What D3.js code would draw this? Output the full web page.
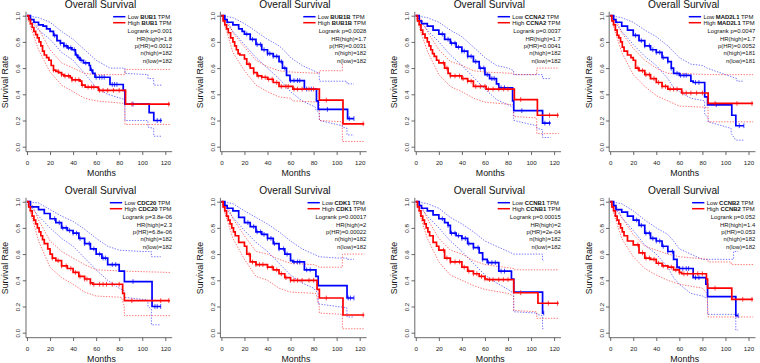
<!DOCTYPE html>
<html>
<head>
<meta charset="utf-8">
<script src="https://cdn.jsdelivr.net/npm/d3@7"></script>
<style>
  body { margin: 0; background: #fff; }
  svg { display: block; font-family: "Liberation Sans", Arial, sans-serif; }
</style>
</head>
<body>
<script>
// gene panels, in reading order
var genes = ["BUB1", "BUB1B", "CCNA2", "MAD2L1", "CDC20", "CDK1", "CCNB1", "CCNB2"];
var logrankP = ["0.001", "0.0028", "0.0037", "0.0047", "3.8e-06", "0.00017", "0.00015", "0.052"];
var hrHigh = ["1.8", "1.7", "1.7", "1.7", "2.3", "2", "2", "1.4"];
var pHR = ["0.0012", "0.0031", "0.0041", "0.0052", "6.8e-06", "0.00022", "2e-04", "0.053"];
var nHigh = [182, 182, 182, 181, 182, 182, 182, 182];
var nLow = [182, 182, 182, 181, 182, 182, 182, 182];

var xTicks = [0, 20, 40, 60, 80, 100, 120];
var yTicks = [0, 0.2, 0.4, 0.6, 0.8, 1.0];

// Kaplan-Meier steps [month, survival] for the low expression group
var lowCurves = [
  [[0,1],[3,0.97],[6,0.95],[10,0.93],[14,0.92],[17,0.9],[20,0.88],[23,0.85],[26,0.81],[29,0.79],[32,0.77],[35,0.755],[39,0.74],[42,0.7],[44,0.68],[46,0.66],[49,0.64],[54,0.62],[55,0.585],[57,0.56],[59,0.53],[71,0.53],[72,0.475],[83,0.475],[83.5,0.43],[85,0.325],[105,0.325],[106,0.26],[110,0.2],[117,0.2]],
  [[0,1],[3,0.97],[5,0.95],[10,0.93],[15,0.9],[18,0.88],[20,0.86],[25,0.82],[30,0.78],[35,0.74],[40,0.71],[45,0.69],[50,0.65],[53,0.6],[56.5,0.545],[59.5,0.505],[71,0.505],[72,0.44],[82,0.44],[82.5,0.35],[84,0.285],[109,0.285],[109.5,0.215],[115,0.215]],
  [[0,1],[3,0.96],[5,0.94],[10,0.92],[15,0.89],[20,0.86],[25,0.82],[30,0.79],[35,0.76],[40,0.73],[45,0.69],[50,0.65],[55,0.6],[60,0.55],[64,0.52],[70,0.48],[72,0.45],[83,0.45],[84,0.35],[85,0.275],[109,0.275],[110,0.18],[117,0.18]],
  [[0,1],[3,0.97],[5,0.95],[10,0.92],[15,0.89],[20,0.85],[25,0.81],[30,0.77],[35,0.74],[40,0.72],[45,0.68],[50,0.65],[53,0.6],[55,0.56],[60,0.545],[70,0.5],[72,0.49],[81.5,0.49],[82,0.38],[84.5,0.32],[105,0.32],[105.5,0.24],[109,0.16],[116,0.16]],
  [[0,1],[3,0.96],[10,0.94],[15,0.91],[20,0.87],[25,0.84],[30,0.8],[35,0.78],[40,0.76],[45,0.72],[50,0.68],[55,0.64],[60,0.6],[65,0.57],[70,0.52],[78,0.52],[80,0.47],[83.5,0.47],[84.5,0.39],[108,0.39],[108.5,0.2],[116,0.2]],
  [[0,1],[3,0.97],[5,0.95],[10,0.93],[15,0.88],[20,0.84],[25,0.81],[30,0.77],[35,0.75],[40,0.72],[45,0.68],[50,0.64],[55,0.6],[60,0.55],[62,0.54],[71,0.54],[72,0.48],[81,0.48],[82,0.43],[84,0.36],[108.5,0.36],[109,0.265],[115,0.265]],
  [[0,1],[3,0.97],[5,0.95],[10,0.93],[15,0.9],[20,0.87],[25,0.84],[28,0.82],[30,0.76],[35,0.74],[40,0.72],[45,0.68],[50,0.65],[55,0.61],[58,0.56],[62,0.535],[71.5,0.535],[72,0.47],[82,0.47],[83,0.41],[85,0.31],[109,0.31],[110,0.15],[111,0.15]],
  [[0,1],[3,0.97],[5,0.94],[10,0.92],[15,0.89],[20,0.86],[25,0.82],[30,0.76],[35,0.72],[40,0.7],[45,0.66],[50,0.62],[55,0.56],[58,0.5],[60,0.49],[71,0.49],[72,0.42],[82,0.42],[83,0.37],[84.5,0.275],[108.5,0.275],[109,0.13],[111,0.13]]
];

// Kaplan-Meier steps for the high expression group
var highCurves = [
  [[0,1],[1.5,0.97],[3,0.94],[4.5,0.91],[6,0.88],[7.5,0.855],[9,0.83],[10.5,0.8],[12,0.77],[13.5,0.73],[15,0.7],[17,0.68],[19,0.66],[21,0.62],[23,0.585],[25,0.575],[27.5,0.565],[30,0.55],[32,0.54],[37.5,0.527],[39,0.51],[46,0.5],[47.5,0.47],[50.5,0.455],[60.5,0.455],[62,0.43],[85,0.43],[85.5,0.325],[124,0.325]],
  [[0,1],[1.5,0.96],[3,0.93],[4.5,0.9],[6,0.87],[8,0.83],[10,0.8],[11.5,0.77],[13,0.74],[14.5,0.71],[16,0.7],[20,0.67],[22,0.63],[25,0.6],[28,0.565],[31,0.54],[35,0.53],[40,0.515],[45,0.49],[50,0.46],[62,0.44],[84.5,0.44],[85,0.355],[105,0.355],[105.5,0.175],[124,0.175]],
  [[0,1],[1.5,0.96],[3,0.93],[4.5,0.89],[6,0.86],[8,0.83],[10,0.8],[11.5,0.77],[13,0.74],[14.5,0.71],[16,0.69],[18,0.66],[20,0.64],[25,0.6],[28,0.56],[30,0.54],[40,0.52],[45,0.5],[50,0.46],[61,0.44],[85,0.44],[85.5,0.36],[105,0.36],[105.5,0.24],[124,0.24]],
  [[0,1],[1.5,0.96],[3,0.93],[4.5,0.89],[6,0.85],[7.5,0.83],[9,0.8],[10.5,0.76],[12,0.73],[15,0.7],[18,0.68],[20,0.66],[22,0.6],[25,0.58],[30,0.55],[35,0.52],[40,0.49],[45,0.46],[50,0.44],[62,0.41],[84.5,0.41],[85,0.33],[124,0.33]],
  [[0,1],[1.5,0.96],[3,0.93],[4.5,0.89],[6,0.86],[7.5,0.83],[9,0.8],[10.5,0.77],[12,0.74],[13.5,0.71],[15,0.68],[18,0.64],[20,0.6],[22,0.57],[25,0.55],[30,0.51],[35,0.49],[40,0.46],[45,0.43],[50,0.41],[55,0.38],[57,0.37],[82,0.37],[83,0.3],[84.5,0.245],[124,0.245]],
  [[0,1],[1.5,0.96],[3,0.93],[4.5,0.89],[6,0.86],[7.5,0.83],[9,0.8],[10.5,0.77],[12,0.74],[15,0.69],[20,0.66],[22,0.6],[25,0.54],[30,0.52],[40,0.5],[45,0.48],[50,0.45],[55,0.42],[60,0.4],[82,0.4],[83,0.33],[85,0.265],[105,0.265],[105.5,0.135],[124,0.135]],
  [[0,1],[1.5,0.96],[3,0.93],[4.5,0.89],[6,0.86],[7.5,0.83],[9,0.8],[10.5,0.77],[12,0.74],[15,0.69],[18,0.66],[20,0.63],[25,0.57],[30,0.54],[40,0.5],[45,0.47],[50,0.45],[55,0.43],[60,0.41],[62,0.405],[84.5,0.405],[85,0.305],[105,0.305],[106,0.225],[124,0.225]],
  [[0,1],[1.5,0.96],[3,0.93],[4.5,0.89],[6,0.86],[7.5,0.83],[9,0.8],[10.5,0.77],[12,0.74],[15,0.7],[20,0.67],[25,0.61],[30,0.57],[35,0.56],[40,0.53],[45,0.51],[50,0.5],[55,0.48],[60,0.46],[62,0.45],[82,0.45],[83.5,0.41],[84.5,0.34],[105,0.34],[105.5,0.255],[124,0.255]]
];

// 95% confidence bounds
var lowUpper = [
  [[0,1],[10,0.985],[20,0.95],[30,0.88],[40,0.82],[50,0.74],[60,0.66],[72,0.6],[84.9,0.6],[85,0.56],[104.9,0.55],[105,0.52],[109.9,0.52],[110,0.47],[117,0.47]],
  [[0,1],[10,0.985],[20,0.94],[30,0.88],[40,0.82],[50,0.77],[55,0.73],[60,0.68],[70,0.62],[80,0.58],[84.9,0.56],[85,0.5],[108.9,0.5],[109,0.48],[115,0.48]],
  [[0,1],[10,0.985],[20,0.95],[30,0.89],[40,0.84],[50,0.76],[60,0.68],[70,0.62],[80,0.6],[84.9,0.58],[85,0.55],[109.9,0.55],[110,0.52],[117,0.52]],
  [[0,1],[10,0.985],[20,0.95],[30,0.89],[40,0.84],[50,0.77],[60,0.68],[70,0.63],[80,0.62],[84,0.6],[100,0.55],[109.9,0.52],[110,0.5],[116,0.5]],
  [[0,1],[10,0.99],[20,0.94],[30,0.89],[40,0.85],[50,0.79],[60,0.72],[70,0.66],[80,0.63],[100,0.62],[107.9,0.62],[108,0.58],[116,0.58]],
  [[0,1],[10,0.985],[20,0.93],[30,0.88],[40,0.83],[50,0.77],[60,0.7],[70,0.64],[80,0.6],[85,0.58],[100,0.57],[108.9,0.57],[109,0.56],[115,0.56]],
  [[0,1],[10,0.985],[20,0.95],[30,0.88],[40,0.83],[50,0.77],[60,0.7],[70,0.66],[80,0.62],[85,0.6],[109.9,0.6],[110,0.55],[111,0.55]],
  [[0,1],[10,0.985],[20,0.93],[30,0.86],[40,0.8],[50,0.75],[55,0.7],[60,0.64],[70,0.6],[80,0.56],[107,0.56],[107.1,0.62],[111,0.62]]
];
var lowLower = [
  [[0,1],[10,0.89],[20,0.82],[30,0.72],[40,0.66],[50,0.56],[60,0.45],[70,0.4],[84.9,0.36],[85,0.2],[104.9,0.2],[105,0.15],[109.9,0.14],[110,0.08],[117,0.08]],
  [[0,1],[10,0.88],[20,0.78],[30,0.68],[40,0.6],[50,0.52],[55,0.47],[60,0.42],[70,0.35],[81.9,0.3],[82,0.28],[84.9,0.26],[85,0.2],[104.9,0.16],[105,0.15],[108.9,0.14],[109,0.09],[115,0.09]],
  [[0,1],[10,0.89],[20,0.8],[30,0.7],[40,0.62],[50,0.53],[60,0.44],[70,0.36],[80,0.32],[84.9,0.3],[85,0.2],[104.9,0.16],[105,0.14],[109.9,0.13],[110,0.07],[117,0.07]],
  [[0,1],[10,0.88],[20,0.78],[30,0.69],[40,0.62],[50,0.52],[55,0.45],[60,0.42],[70,0.37],[81.9,0.35],[82,0.25],[84.9,0.22],[85,0.19],[104.9,0.14],[105,0.1],[109,0.05],[116,0.05]],
  [[0,1],[10,0.89],[20,0.8],[30,0.72],[40,0.66],[50,0.57],[60,0.48],[70,0.4],[80,0.34],[84.4,0.32],[84.5,0.27],[104.9,0.25],[105,0.2],[107.9,0.18],[108,0.06],[116,0.06]],
  [[0,1],[10,0.88],[20,0.78],[30,0.69],[40,0.62],[50,0.53],[60,0.44],[70,0.38],[80,0.34],[83.9,0.3],[84,0.22],[108.9,0.19],[109,0.12],[115,0.12]],
  [[0,1],[10,0.89],[20,0.8],[30,0.7],[40,0.62],[50,0.53],[60,0.44],[70,0.38],[80,0.33],[84.9,0.3],[85,0.16],[104.9,0.15],[105,0.14],[109.9,0.13],[110,0.03],[111,0.03]],
  [[0,1],[10,0.88],[20,0.78],[30,0.67],[40,0.6],[50,0.5],[55,0.42],[60,0.37],[70,0.3],[80,0.28],[84.4,0.26],[84.5,0.14],[108.9,0.14],[109,0.02],[111,0.02]]
];
var highUpper = [
  [[0,1],[5,0.97],[10,0.9],[20,0.74],[30,0.64],[40,0.6],[50,0.56],[60,0.55],[84.9,0.55],[85,0.59],[124,0.59]],
  [[0,1],[5,0.97],[10,0.87],[20,0.76],[30,0.66],[40,0.61],[50,0.58],[60,0.57],[84.9,0.56],[85,0.58],[104.9,0.58],[105,0.64],[105.3,0.64]],
  [[0,1],[5,0.97],[10,0.88],[20,0.74],[30,0.65],[40,0.62],[50,0.58],[60,0.57],[84.9,0.56],[85,0.55],[104.9,0.55],[105,0.6],[124,0.6]],
  [[0,1],[5,0.97],[10,0.87],[20,0.75],[30,0.66],[40,0.6],[50,0.56],[60,0.56],[84.9,0.55],[124,0.55]],
  [[0,1],[5,0.97],[10,0.86],[20,0.7],[30,0.62],[40,0.57],[50,0.52],[60,0.48],[84,0.47],[124,0.46]],
  [[0,1],[5,0.97],[10,0.87],[20,0.74],[30,0.62],[40,0.6],[50,0.56],[60,0.53],[80,0.52],[84.9,0.5],[104.9,0.5],[105,0.6],[124,0.6]],
  [[0,1],[5,0.97],[10,0.87],[20,0.72],[30,0.63],[40,0.6],[50,0.55],[60,0.52],[84.9,0.49],[85,0.48],[124,0.48]],
  [[0,1],[5,0.97],[10,0.88],[20,0.75],[30,0.66],[40,0.63],[50,0.6],[60,0.58],[84.9,0.56],[85,0.54],[104.9,0.54],[105,0.52],[124,0.52]]
];
var highLower = [
  [[0,1],[5,0.87],[10,0.74],[20,0.57],[30,0.47],[40,0.42],[50,0.37],[60,0.35],[84.9,0.33],[85,0.17],[124,0.17]],
  [[0,1],[5,0.87],[10,0.72],[20,0.58],[30,0.47],[40,0.42],[50,0.38],[60,0.37],[62,0.35],[84.9,0.34],[85,0.2],[104.9,0.19],[105,0.04],[124,0.04]],
  [[0,1],[5,0.86],[10,0.73],[20,0.55],[30,0.46],[40,0.42],[50,0.37],[60,0.34],[84.9,0.32],[85,0.23],[104.9,0.22],[105,0.1],[124,0.1]],
  [[0,1],[5,0.86],[10,0.72],[20,0.55],[30,0.46],[40,0.39],[50,0.35],[60,0.31],[84.9,0.3],[85,0.19],[124,0.19]],
  [[0,1],[5,0.86],[10,0.7],[20,0.5],[30,0.42],[40,0.37],[50,0.31],[60,0.28],[82,0.27],[84.4,0.2],[84.5,0.13],[124,0.13]],
  [[0,1],[5,0.86],[10,0.72],[20,0.56],[30,0.43],[40,0.4],[50,0.34],[60,0.31],[82,0.3],[84.9,0.2],[85,0.15],[104.9,0.14],[105,0.03],[124,0.03]],
  [[0,1],[5,0.86],[10,0.72],[20,0.54],[30,0.44],[40,0.4],[50,0.36],[60,0.33],[80,0.3],[84.9,0.28],[85,0.17],[104.9,0.16],[105,0.11],[124,0.11]],
  [[0,1],[5,0.86],[10,0.72],[20,0.58],[30,0.49],[40,0.44],[50,0.4],[60,0.37],[80,0.34],[84,0.3],[84.5,0.22],[85,0.12],[124,0.12]]
];

// censored times (months)
var lowCensor = [
  [24,29,32,34,36,38,41,43,45,47,51,56,60,63,65,67,74,76,78,92,113,116],
  [22,27,31,34,37,40,42,45,48,52,55,60,63,66,68,74,78,92,111,115],
  [23,28,31,34,37,40,42,45,48,52,56,59,62,66,68,74,77,92,112,116],
  [22,27,30,34,37,40,43,46,50,53,58,61,64,66,74,77,92,112,116],
  [24,28,31,34,37,40,43,46,50,54,58,63,66,68,74,77,92,111,113,116],
  [23,28,31,34,37,40,43,46,50,54,57,63,66,68,74,77,110,112,115],
  [23,28,31,34,37,40,43,46,50,54,58,63,66,69,74,77,111],
  [23,27,31,34,37,40,43,46,50,54,58,63,66,68,74,77,111]
];
var highCensor = [
  [23,27,30,33,36,39,42,45,48,53,56,58,63,66,70,75,80,91,123],
  [24,28,32,35,38,41,44,48,52,56,58,63,66,70,76,80,91,123],
  [24,27,30,34,38,41,45,48,52,56,60,63,67,72,76,80,91,116,123],
  [24,28,31,34,38,42,45,48,52,55,58,63,66,70,75,80,91,110,123],
  [22,27,30,34,38,42,46,50,52,55,58,63,66,69,74,80,91,116,123],
  [24,27,30,33,36,40,44,48,52,56,60,63,66,70,76,80,91,123],
  [24,27,30,34,38,42,46,50,53,57,60,64,67,72,76,80,91,115,123],
  [24,28,31,34,38,42,46,50,53,57,60,64,67,72,76,80,91,115,123]
];

var W = 760, H = 363;
var colStep = 194.4, rowStep = 186;
var blue = "#0000ff", red = "#ff0000";

var svg = d3.select("body").append("svg")
    .attr("width", W)
    .attr("height", H);

var x = d3.scaleLinear().domain([0, 120]).range([27, 165.3]);
var y = d3.scaleLinear().domain([0, 1]).range([146.7, 15.7]);

var stepLine = d3.line()
    .x(function (d) { return x(d[0]); })
    .y(function (d) { return y(d[1]); })
    .curve(d3.curveStepAfter);

var ciLine = d3.line()
    .x(function (d) { return x(d[0]); })
    .y(function (d) { return y(d[1]); });

function survAt(curve, t) {
    var s = curve[0][1];
    curve.forEach(function (p) { if (p[0] <= t) s = p[1]; });
    return s;
}

genes.forEach(function (gene, i) {
    var col = i % 4, row = Math.floor(i / 4);
    var g = svg.append("g")
        .attr("transform", "translate(" + (col * colStep) + "," + (row * rowStep) + ")");

    // title
    g.append("text")
        .attr("x", x(0) + 73.5)
        .attr("y", 8.4)
        .attr("text-anchor", "middle")
        .attr("font-size", 10.2)
        .attr("fill", "#111")
        .text("Overall Survival");

    // axes
    var yaxis = g.append("g")
        .attr("transform", "translate(26,0)")
        .call(d3.axisLeft(y).tickValues(yTicks).tickSize(3.3).tickSizeOuter(0).tickFormat(d3.format(".1f")));
    yaxis.select(".domain").remove();
    yaxis.selectAll("line").attr("stroke", "#444").attr("stroke-width", 0.8);
    yaxis.selectAll("text")
        .attr("transform", "rotate(-90)")
        .attr("x", 0)
        .attr("y", -5.6)
        .attr("dy", null)
        .attr("text-anchor", "middle")
        .attr("font-size", 6.2)
        .attr("font-family", "Liberation Sans, Arial, sans-serif")
        .attr("fill", "#222");

    var xaxis = g.append("g")
        .attr("transform", "translate(0,151.7)")
        .call(d3.axisBottom(x).tickValues(xTicks).tickSize(3.3).tickSizeOuter(0));
    xaxis.select(".domain").remove();
    xaxis.selectAll("line").attr("stroke", "#444").attr("stroke-width", 0.8);
    xaxis.selectAll("text")
        .attr("y", 13.8)
        .attr("dy", null)
        .attr("font-size", 6.2)
        .attr("font-family", "Liberation Sans, Arial, sans-serif")
        .attr("fill", "#222");

    // L shaped frame
    g.append("path")
        .attr("d", "M26," + y(1.03) + "V151.7H" + x(126))
        .attr("fill", "none")
        .attr("stroke", "#444")
        .attr("stroke-width", 0.8);

    g.append("text")
        .attr("transform", "translate(8.3," + 82 + ") rotate(-90)")
        .attr("text-anchor", "middle")
        .attr("font-size", 8.8)
        .attr("fill", "#111")
        .text("Survival Rate");

    g.append("text")
        .attr("x", x(0) + 74.5)
        .attr("y", 176.4)
        .attr("text-anchor", "middle")
        .attr("font-size", 8.8)
        .attr("fill", "#111")
        .text("Months");

    // confidence bands
    [[lowUpper[i], blue], [lowLower[i], blue], [highUpper[i], red], [highLower[i], red]].forEach(function (c) {
        g.append("path")
            .attr("d", ciLine(c[0]))
            .attr("fill", "none")
            .attr("stroke", c[1])
            .attr("stroke-opacity", 0.6)
            .attr("stroke-width", 0.9)
            .attr("stroke-dasharray", "1.4,1.4");
    });

    // survival curves and censor marks
    [[lowCurves[i], lowCensor[i], blue], [highCurves[i], highCensor[i], red]].forEach(function (c) {
        g.append("path")
            .attr("d", stepLine(c[0]))
            .attr("fill", "none")
            .attr("stroke", c[2])
            .attr("stroke-width", 1.7);
        g.selectAll(null)
            .data(c[1])
            .enter()
            .append("line")
            .attr("x1", function (t) { return x(t); })
            .attr("x2", function (t) { return x(t); })
            .attr("y1", function (t) { return y(survAt(c[0], t)) - 2.4; })
            .attr("y2", function (t) { return y(survAt(c[0], t)) + 2.4; })
            .attr("stroke", c[2])
            .attr("stroke-opacity", 0.8)
            .attr("stroke-width", 0.9);
    });

    // legend, right aligned like R's topright legend
    var lx = x(0);
    var right = lx + 144.5;
    var leg = [["Low ", blue, 16.7], ["High ", red, 22.7]];
    var texts = leg.map(function (l) {
        var t = g.append("text")
            .attr("y", l[2] + 2.1)
            .attr("font-size", 5.9)
            .attr("fill", "#111");
        t.append("tspan").text(l[0]);
        t.append("tspan").attr("font-weight", "bold").text(gene);
        t.append("tspan").text(" TPM");
        return t;
    });
    var maxLen = d3.max(texts, function (t) { return t.node().getComputedTextLength(); });
    var tx = right - maxLen;
    texts.forEach(function (t) { t.attr("x", tx); });
    leg.forEach(function (l) {
        g.append("line")
            .attr("x1", tx - 14.6).attr("x2", tx - 2.3)
            .attr("y1", l[2]).attr("y2", l[2])
            .attr("stroke", l[1])
            .attr("stroke-width", 1.5);
    });

    var stats = [
        "Logrank p=" + logrankP[i],
        "HR(high)=" + hrHigh[i],
        "p(HR)=" + pHR[i],
        "n(high)=" + nHigh[i],
        "n(low)=" + nLow[i]
    ];
    g.selectAll(null)
        .data(stats)
        .enter()
        .append("text")
        .attr("x", right + 0.5)
        .attr("y", function (d, k) { return 33.1 + k * 7.4; })
        .attr("text-anchor", "end")
        .attr("font-size", 5.9)
        .attr("fill", "#111")
        .text(function (d) { return d; });
});
</script>
</body>
</html>
